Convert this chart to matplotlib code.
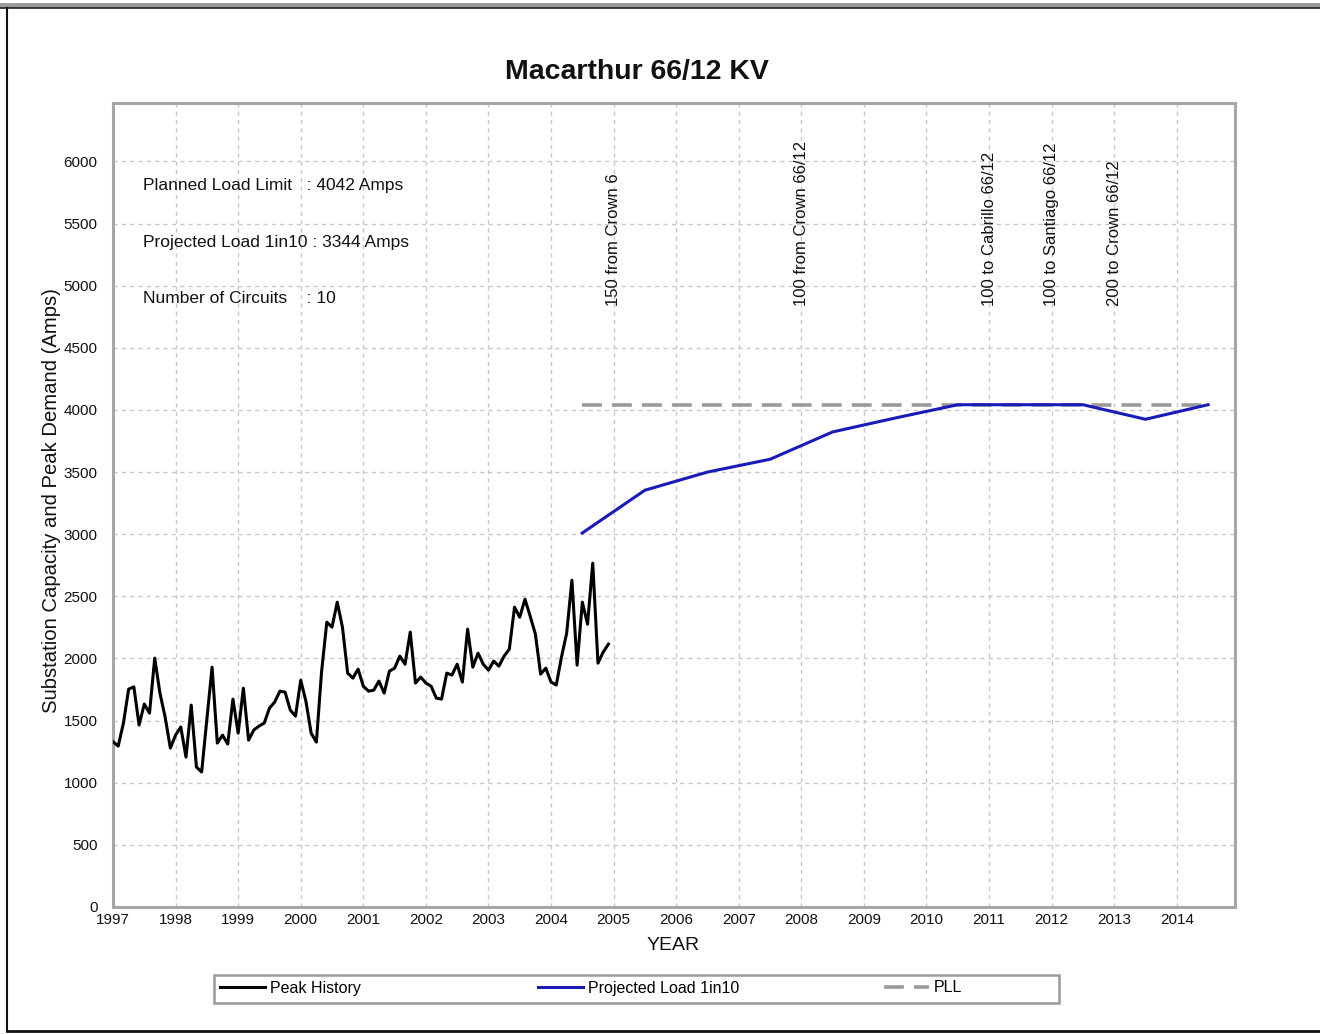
import numpy as np
import matplotlib
matplotlib.use("Agg")
import matplotlib.pyplot as plt
import matplotlib.font_manager as fm
from matplotlib.lines import Line2D
from matplotlib.patches import Rectangle

# ---------------- data ----------------
peak_start_year = 1997
peak_history = [1330, 1295, 1480, 1753, 1772, 1464, 1633, 1560, 2003, 1721, 1528, 1279,
                1383, 1448, 1206, 1625, 1126, 1086, 1510, 1930, 1319, 1383, 1311, 1673,
                1399, 1761, 1343, 1424, 1456, 1480, 1600, 1649, 1737, 1729, 1584, 1536,
                1826, 1655, 1399, 1327, 1895, 2292, 2252, 2453, 2252, 1882, 1842, 1914,
                1777, 1737, 1745, 1818, 1721, 1898, 1922, 2019, 1954, 2212, 1802, 1850,
                1802, 1777, 1681, 1673, 1882, 1866, 1954, 1810, 2236, 1930, 2043, 1954,
                1906, 1979, 1938, 2019, 2075, 2413, 2332, 2477, 2340, 2196, 1874, 1922,
                1810, 1786, 2011, 2204, 2630, 1946, 2453, 2276, 2767, 1962, 2051, 2115]

proj_years = [2004.5, 2005.5, 2006.5, 2007.5, 2008.5, 2009.5, 2010.5, 2011.5, 2012.5, 2013.5, 2014.5]
proj_load = [3010, 3354, 3500, 3603, 3823, 3935, 4042, 4042, 4042, 3925, 4042]

pll_years = [2004.5, 2014.5]
pll_value = [4042, 4042]

event_years = [2005, 2008, 2011, 2012, 2013]
event_labels = ["150 from Crown 6", "100 from Crown 66/12", "100 to Cabrillo 66/12",
                "100 to Santiago 66/12", "200 to Crown 66/12"]

info_lines = ["Planned Load Limit   : 4042 Amps",
              "Projected Load 1in10 : 3344 Amps",
              "Number of Circuits    : 10"]

x_ticks = list(range(1997, 2015))
y_ticks = list(range(0, 6001, 500))

title = "Macarthur 66/12 KV"

# ---------------- fonts ----------------
names = {f.name for f in fm.fontManager.ttflist}
REG = "Liberation Sans" if "Liberation Sans" in names else "DejaVu Sans"
plt.rcParams["font.family"] = [REG, "DejaVu Sans"]

W, H = 1320, 1034
fig = plt.figure(figsize=(W / 100, H / 100), dpi=100)
fig.patch.set_facecolor("white")

def fx(px):
    return px / W

def fy(py):
    return 1 - py / H

ax = fig.add_axes([fx(113), fy(907), fx(1235) - fx(113), fy(103) - fy(907)])

peak_x = peak_start_year + np.arange(len(peak_history)) / 12.0
l1, = ax.plot(peak_x, peak_history, color="black", lw=2.2, zorder=4, label="Peak History")
l2, = ax.plot(proj_years, proj_load, color="#1a1ab8", lw=2.2, zorder=4, label="Projected Load 1in10")
l3, = ax.plot(pll_years, pll_value, color="#9a9a9a", lw=2.6, dashes=(5.5, 2.8), zorder=3, label="PLL")

ax.set_xlim(1997, 2014.93)
ax.set_ylim(0, 6470)
ax.set_xticks(x_ticks)
ax.set_yticks(y_ticks)
ax.set_xticklabels([str(t) for t in x_ticks], fontsize=11)
ax.set_yticklabels([str(t) for t in y_ticks], fontsize=11)
ax.tick_params(axis="x", length=0, pad=4, colors="#111111")
ax.tick_params(axis="y", length=0, pad=11, colors="#111111")
ax.grid(True, color="#c8c8c8", lw=1.0, linestyle=(0, (3, 3)))
ax.set_axisbelow(True)
for s in ax.spines.values():
    s.set_color("#a6a6a6")
    s.set_linewidth(2.2)

# info text
for t, yy in zip(info_lines, [0.898, 0.826, 0.757]):
    ax.text(0.0267, yy, t, transform=ax.transAxes, fontsize=12.5,
            va="center", ha="left", color="#111111")

# event annotations
for yr, lab in zip(event_years, event_labels):
    ax.text(yr, 4840, lab, rotation=90, ha="center", va="bottom", fontsize=12,
            color="#111111")

# titles / labels
fig.text(fx(637), fy(72), title, ha="center", va="center", fontsize=20.5, fontweight="bold",
         color="#111111")
fig.text(fx(673), fy(946), "YEAR", ha="center", va="center", fontsize=14, color="#111111")
fig.text(fx(52), fy(501), "Substation Capacity and Peak Demand (Amps)", rotation=90,
         ha="center", va="center", fontsize=14.6, color="#111111")

# legend box
fig.add_artist(Rectangle((fx(214), fy(1003)), fx(1059) - fx(214), fy(975) - fy(1003),
                         transform=fig.transFigure, fill=False, edgecolor="#9a9a9a", lw=1.8))
for h, start in zip([l1, l2, l3], [220, 538, 884]):
    fig.legend([h], [h.get_label()], loc="center left",
               bbox_to_anchor=(fx(start), fy(988)), frameon=False,
               handlelength=2.8, handletextpad=0.3, borderaxespad=0, borderpad=0,
               prop={"size": 11.5})

# outer border
fig.add_artist(Line2D([0, 1], [fy(5), fy(5)], transform=fig.transFigure, color="#9a9a9a", lw=3.5))
fig.add_artist(Line2D([0, 1], [fy(8), fy(8)], transform=fig.transFigure, color="#222222", lw=1.2))
fig.add_artist(Line2D([fx(7), fx(7)], [fy(8), fy(1031)], transform=fig.transFigure, color="#111111", lw=1.5))
fig.add_artist(Line2D([fx(7), 1], [fy(1031), fy(1031)], transform=fig.transFigure, color="#111111", lw=2))

fig.savefig("out.png", dpi=100, facecolor="white")
